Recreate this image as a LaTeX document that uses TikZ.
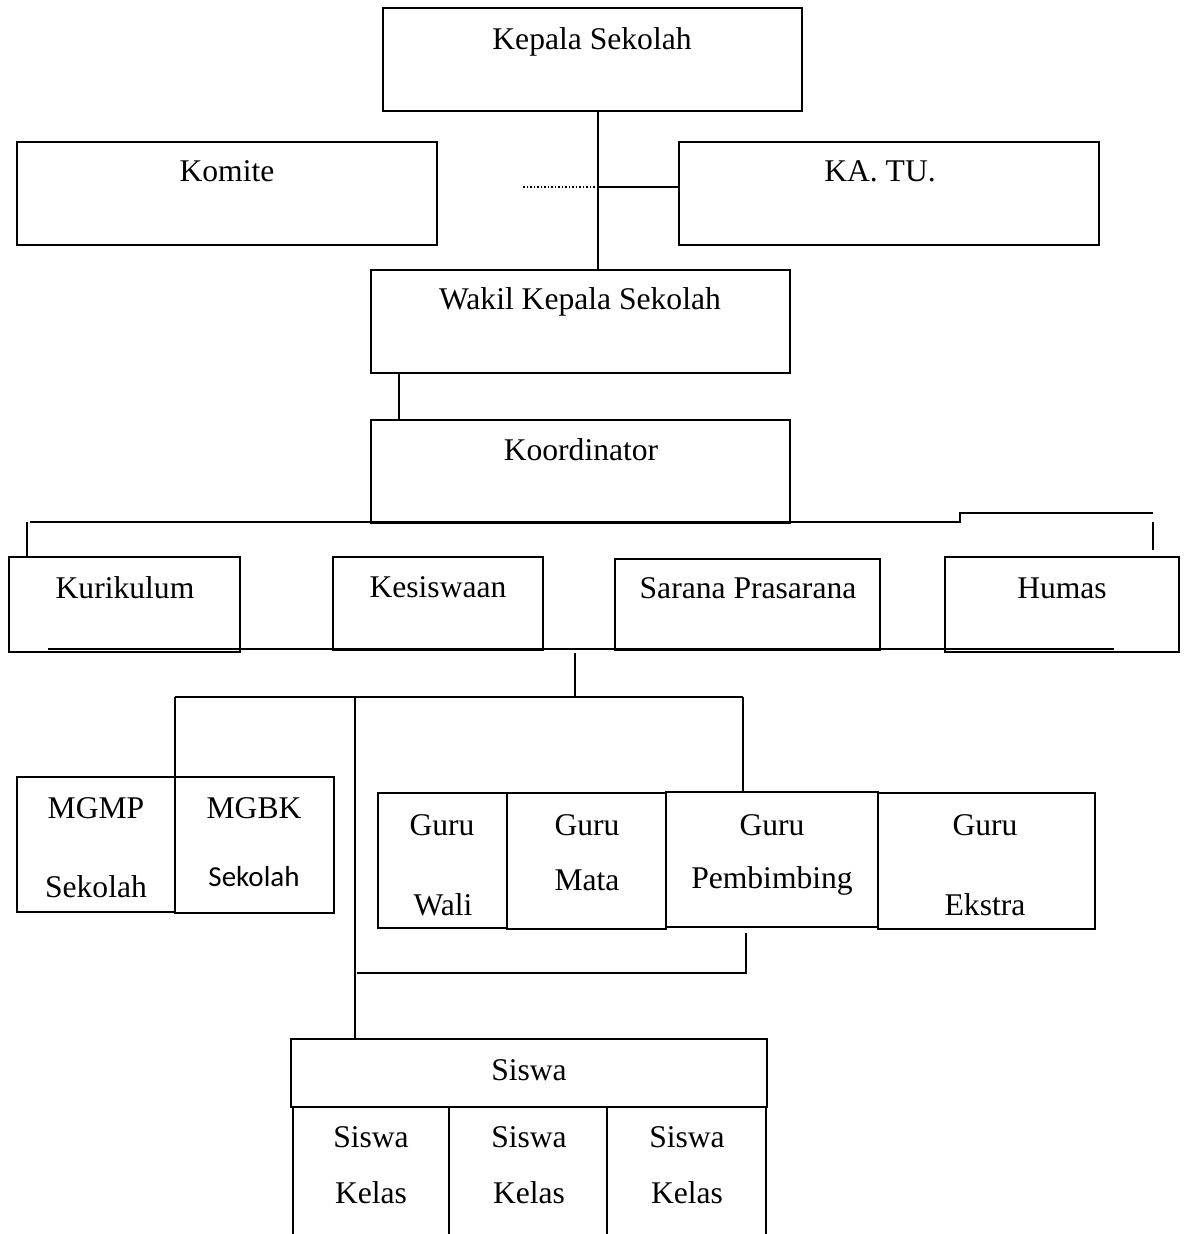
\documentclass[tikz,border=0pt]{standalone}
\usepackage{fontspec}
\setmainfont{Liberation Serif}
\newfontfamily\calib{Carlito}
\usetikzlibrary{fit}
\begin{document}
\begin{tikzpicture}[x=0.5pt,y=-0.5pt,
  box/.style={draw, line width=0.75pt, inner sep=0pt, rectangle},
  lbl/.style={anchor=base, inner sep=0pt, font=\fontsize{15.8}{19}\selectfont},
  conn/.style={line width=0.75pt}]
\useasboundingbox (0,0) rectangle (1183,1234);
% boxes
\node[box, fit={(383,8)(802,111)}] (kepala) {};
\node[box, fit={(17,142)(437,245)}] (komite) {};
\node[box, fit={(679,142)(1099,245)}] (katu) {};
\node[box, fit={(371,270)(790,373)}] (wakil) {};
\node[box, fit={(371,420)(790,523)}] (koord) {};
\node[box, fit={(9,557)(240,652)}] (kur) {};
\node[box, fit={(333,557)(543,650)}] (kes) {};
\node[box, fit={(615,559)(880,650)}] (sar) {};
\node[box, fit={(945,557)(1179,652)}] (hum) {};
\node[box, fit={(17,777)(175,912)}] (mgmp) {};
\node[box, fit={(175,777)(334,913)}] (mgbk) {};
\node[box, fit={(378,793)(507,928)}] (gwali) {};
\node[box, fit={(507,793)(666,929)}] (gmata) {};
\node[box, fit={(666,792)(878,927)}] (gpemb) {};
\node[box, fit={(878,793)(1095,929)}] (gekstra) {};
\node[box, fit={(291,1039)(767,1107)}] (siswa) {};
% labels
\node[lbl] (t1) at (592,50) {Kepala Sekolah};
\node[lbl] (t2) at (227,182) {Komite};
\node[lbl] (t3) at (880,182) {KA. TU.};
\node[lbl] (t4) at (580,310) {Wakil Kepala Sekolah};
\node[lbl] (t5) at (581,461) {Koordinator};
\node[lbl] (t6) at (125,598) {Kurikulum};
\node[lbl] (t7) at (438,597) {Kesiswaan};
\node[lbl] (t8) at (748,598) {Sarana Prasarana};
\node[lbl] (t9) at (1062,598) {Humas};
\node[lbl] (t10) at (96,818) {MGMP};
\node[lbl] (t11) at (96,897) {Sekolah};
\node[lbl] (t12) at (254,818) {MGBK};
\node[lbl, font=\calib\fontsize{14.5}{17}\selectfont] (t13) at (254,886) {Sekolah};
\node[lbl] (t14) at (442,835) {Guru};
\node[lbl] (t15) at (443,915) {Wali};
\node[lbl] (t16) at (587,835) {Guru};
\node[lbl] (t17) at (587,890) {Mata};
\node[lbl] (t18) at (772,835) {Guru};
\node[lbl] (t19) at (772,888) {Pembimbing};
\node[lbl] (t20) at (985,835) {Guru};
\node[lbl] (t21) at (985,915) {Ekstra};
\node[lbl] (t22) at (529,1080) {Siswa};
\node[lbl] (t23) at (371,1147) {Siswa};
\node[lbl] (t24) at (371,1203) {Kelas};
\node[lbl] (t25) at (529,1147) {Siswa};
\node[lbl] (t26) at (529,1203) {Kelas};
\node[lbl] (t27) at (687,1147) {Siswa};
\node[lbl] (t28) at (687,1203) {Kelas};
% coordinates
\coordinate (spine) at (598,187);
\coordinate (dotend) at (523,187);
\coordinate (wk) at (399,0);
\coordinate (busL) at (30,522);
\coordinate (busM) at (960,522);
\coordinate (busR) at (1153,513);
\coordinate (kurdrop) at (27,522);
\coordinate (humdrop) at (1153,522);
\coordinate (humdropEnd) at (1153,550);
\coordinate (lowL) at (48,649);
\coordinate (lowR) at (1114,649);
\coordinate (stemTop) at (575,653);
\coordinate (stemBot) at (575,697);
\coordinate (brL) at (175,697);
\coordinate (brM) at (355,697);
\coordinate (brR) at (743,697);
\coordinate (gbTop) at (746,933);
\coordinate (gbCorner) at (746,973);
\coordinate (gbEnd) at (357,973);
\coordinate (bottomEdge) at (0,1234);
% connectors
\draw[conn] (kepala.south -| spine) -- (wakil.north -| spine);
\draw[line width=0.75pt, densely dotted] (dotend) -- (spine);
\draw[conn] (spine) -- (katu.west |- spine);
\draw[conn] (wakil.south -| wk) -- (koord.north -| wk);
\draw[conn] (busL) -- (busM) -- (busM |- busR) -- (busR);
\draw[conn] (kurdrop) -- (kur.north -| kurdrop);
\draw[conn] (humdrop) -- (humdropEnd);
\draw[conn] (lowL) -- (lowR);
\draw[conn] (stemTop) -- (stemBot);
\draw[conn] (brL) -- (brR);
\draw[conn] (brL) -- (mgbk.north -| brL);
\draw[conn] (brM) -- (siswa.north -| brM);
\draw[conn] (brR) -- (gpemb.north -| brR);
\draw[conn] (gbTop) -- (gbCorner) -- (gbEnd);
% siswa columns
\foreach \cx in {293,449,607,766} {
  \draw[conn] (siswa.south -| \cx,0) -- (bottomEdge -| \cx,0);
}
\end{tikzpicture}
\end{document}
